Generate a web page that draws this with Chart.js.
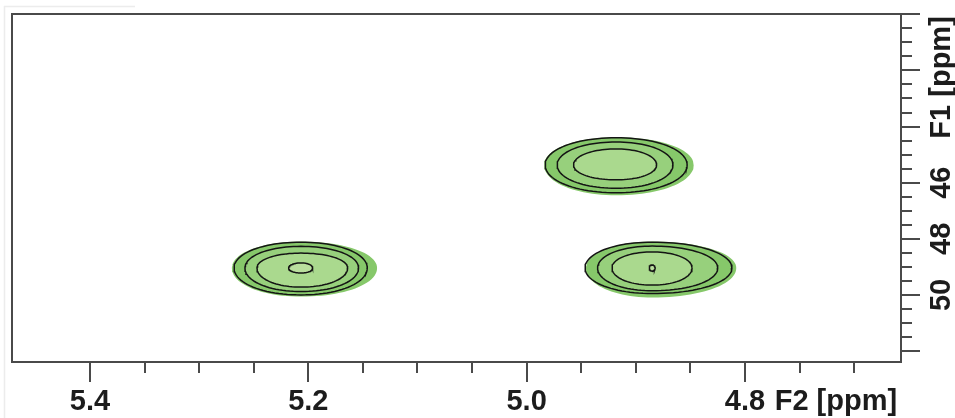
<!DOCTYPE html>
<html><head><meta charset="utf-8">
<script src="https://cdn.jsdelivr.net/npm/chart.js@4/dist/chart.umd.min.js"></script>
<style>html,body{margin:0;padding:0;background:#fff;}#wrap{width:955px;height:418px;position:relative;}</style>
</head><body><div id="wrap"><canvas id="c" width="955" height="418"></canvas></div>
<script>
// ---- axis data (ppm) ----
const xRange = [4.6571, 5.4714];           // F2 range shown (reversed axis)
const yRange = [39.99, 52.39];             // F1 range shown (reversed axis)
const xMajorTicks = [5.4, 5.2, 5.0, 4.8];
const xMinorTicks = [5.35, 5.3, 5.25, 5.15, 5.1, 5.05, 4.95, 4.9, 4.85, 4.75, 4.7];
const xLabelValues = [5.4, 5.2, 5.0, 4.8, 4.7167];
const xLabelTexts = ['5.4', '5.2', '5.0', '4.8', 'F2 [ppm]'];
const yMajorTicks = [40, 42, 44, 46, 48, 50, 52];
const yMinorTicks = [40.5, 41, 41.5, 42.5, 43, 43.5, 44.5, 45, 45.5, 46.5, 47, 47.5, 48.5, 49, 49.5, 50.5, 51, 51.5];
const yLabelValues = [42.25, 46, 48, 50];
const yLabelTexts = ['F1 [ppm]', '46', '48', '50'];

// ---- cross peaks (F2 ppm, F1 ppm) ----
const peakF2 = [5.2067, 4.918, 4.885];
const peakF1 = [49.04, 45.37, 49.04];
// contour extents per peak: [F2 left, F2 right, F1 top, F1 bottom]
const fillEdge = [[5.270, 5.137, 48.10, 50.06], [4.984, 4.847, 44.38, 46.45], [4.9457, 4.808, 48.10, 50.09]];
const contourL1 = [[5.268, 5.146, 48.12, 50.00], [4.983, 4.853, 44.40, 46.36], [4.9465, 4.812, 48.12, 49.95]];
const contourL2 = [[5.258, 5.154, 48.27, 49.88], [4.972, 4.866, 44.55, 46.20], [4.935, 4.825, 48.26, 49.85]];
const contourL3 = [[5.247, 5.164, 48.51, 49.72], [4.957, 4.881, 44.80, 45.90], [4.9218, 4.8485, 48.47, 49.65]];
const contourL4 = [[5.218, 5.196, 48.86, 49.22], null, [4.8877, 4.8823, 48.93, 49.15]];

const bandColors = ['#86c86a', '#97d07c', '#aad98e', '#badf9e'];

function shape(i, ext) {
  const cx = peakF2[i], cy = peakF1[i];
  const pts = [];
  const N = 96, e = 2 / 2.05;
  for (let k = 0; k <= N; k++) {
    const t = (k / N) * Math.PI * 2;
    const c = Math.cos(t), s = Math.sin(t);
    const fc = Math.pow(Math.abs(c), e), fs = Math.pow(Math.abs(s), e);
    const x = c >= 0 ? cx + fc * (ext[1] - cx) : cx + fc * (ext[0] - cx);
    const y = s >= 0 ? cy + fs * (ext[3] - cy) : cy + fs * (ext[2] - cy);
    pts.push({ x, y });
  }
  return pts;
}

const datasets = [];
const fillLevels = [fillEdge, contourL2, contourL3, contourL4];
const lineLevels = [contourL1, contourL2, contourL3, contourL4];
for (let p = 0; p < peakF2.length; p++) {
  fillLevels.forEach((lv, j) => {
    if (!lv[p]) return;
    datasets.push({ data: shape(p, lv[p]), showLine: true, fill: 'shape', backgroundColor: bandColors[j],
      borderWidth: 0, borderColor: 'rgba(0,0,0,0)', pointRadius: 0, tension: 0, order: 20 - j });
  });
}
for (let p = 0; p < peakF2.length; p++) {
  lineLevels.forEach((lv) => {
    if (!lv[p]) return;
    datasets.push({ data: shape(p, lv[p]), showLine: true, fill: false, borderColor: '#141414',
      borderWidth: 1.5, pointRadius: 0, tension: 0, order: 1 });
  });
}

const frameColor = '#4a4a4a';
const framePlugin = {
  id: 'frame',
  beforeDraw(chart) {
    const ctx = chart.ctx;
    ctx.save();
    ctx.strokeStyle = '#ececec'; ctx.lineWidth = 1.5;
    ctx.beginPath(); ctx.moveTo(4, 6.5); ctx.lineTo(135, 6.5); ctx.moveTo(4.5, 6); ctx.lineTo(4.5, 418); ctx.stroke();
    ctx.restore();
  },
  afterDraw(chart) {
    const { ctx, chartArea: a, scales } = chart;
    const xs = scales.x, ys = scales.y;
    ctx.save();
    ctx.strokeStyle = frameColor; ctx.lineWidth = 2; ctx.lineCap = 'butt';
    ctx.strokeRect(a.left, a.top, a.right - a.left, a.bottom - a.top);
    ctx.beginPath();
    xMajorTicks.forEach(v => { const px = Math.round(xs.getPixelForValue(v)); ctx.moveTo(px, a.bottom); ctx.lineTo(px, a.bottom + 20); });
    xMinorTicks.forEach(v => { const px = Math.round(xs.getPixelForValue(v)); ctx.moveTo(px, a.bottom); ctx.lineTo(px, a.bottom + 11); });
    yMajorTicks.forEach(v => { const py = Math.round(ys.getPixelForValue(v)); ctx.moveTo(a.right, py); ctx.lineTo(a.right + 19, py); });
    yMinorTicks.forEach(v => { const py = Math.round(ys.getPixelForValue(v)); ctx.moveTo(a.right, py); ctx.lineTo(a.right + 11, py); });
    ctx.stroke();
    ctx.restore();
  }
};

const labelFont = { family: '"Liberation Sans", Arial, sans-serif', weight: 'bold', size: 29 };

new Chart(document.getElementById('c'), {
  type: 'scatter',
  data: { datasets },
  options: {
    responsive: false, animation: false, devicePixelRatio: 1,
    layout: { padding: { left: 12, top: 14, right: 0, bottom: 0 } },
    plugins: { legend: { display: false }, tooltip: { enabled: false } },
    elements: { point: { radius: 0 } },
    scales: {
      x: {
        type: 'linear', position: 'bottom', reverse: true, min: xRange[0], max: xRange[1],
        afterBuildTicks: s => { s.ticks = xLabelValues.map(v => ({ value: v })); },
        afterFit: s => { s.height = 56; },
        grid: { display: false, drawTicks: false }, border: { display: false },
        ticks: { autoSkip: false, minRotation: 0, maxRotation: 0, padding: 23, color: '#1c1c1c', font: labelFont,
          callback: v => xLabelTexts[xLabelValues.indexOf(v)] }
      },
      y: {
        type: 'linear', position: 'right', reverse: true, min: yRange[0], max: yRange[1],
        afterBuildTicks: s => { s.ticks = yLabelValues.map(v => ({ value: v })); },
        afterFit: s => { s.width = 54; },
        grid: { display: false, drawTicks: false }, border: { display: false },
        ticks: { autoSkip: false, minRotation: 90, maxRotation: 90, crossAlign: 'center', padding: -20, color: '#1c1c1c', font: labelFont,
          callback: v => yLabelTexts[yLabelValues.indexOf(v)] }
      }
    }
  },
  plugins: [framePlugin]
});
</script></body></html>
